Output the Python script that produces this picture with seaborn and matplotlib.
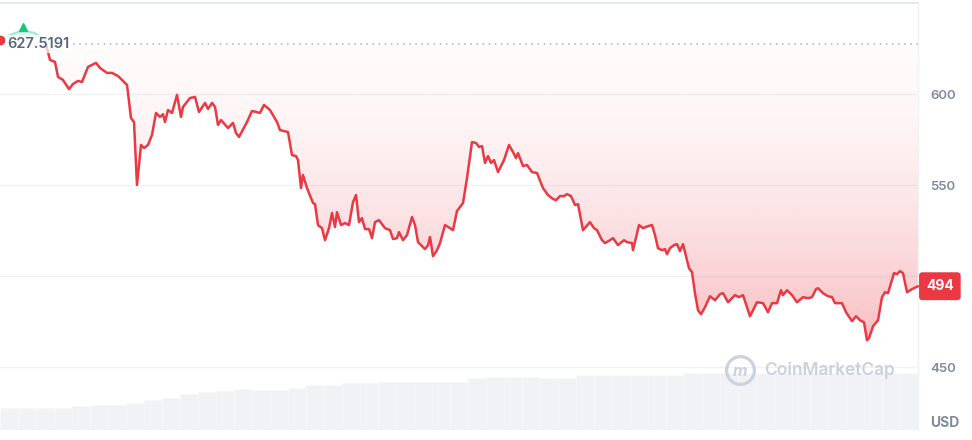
import numpy as np
import matplotlib.pyplot as plt
import matplotlib.colors as mcolors
from matplotlib.patches import Polygon, Rectangle
from matplotlib.lines import Line2D
import seaborn as sns

# 7-day price history (minutes since start, USD)
minutes = [0, 110, 253, 385, 495, 550, 605, 638, 693, 759, 803, 858, 902, 968, 1056, 1100,
           1177, 1232, 1298, 1342, 1397, 1441, 1474, 1507, 1551, 1584, 1628, 1672, 1716,
           1760, 1793, 1815, 1848, 1892, 1947, 1991, 2013, 2090, 2145, 2189, 2255, 2288,
           2332, 2365, 2398, 2431, 2508, 2563, 2596, 2629, 2717, 2772, 2860, 2904, 2970,
           3047, 3080, 3168, 3212, 3256, 3278, 3311, 3333, 3377, 3443, 3465, 3498, 3542,
           3575, 3619, 3652, 3685, 3707, 3751, 3795, 3839, 3883, 3916, 3949, 3982, 4015,
           4059, 4092, 4125, 4169, 4235, 4290, 4323, 4367, 4389, 4433, 4477, 4532, 4565,
           4598, 4642, 4675, 4708, 4730, 4763, 4807, 4840, 4895, 4950, 4983, 5027, 5093,
           5137, 5192, 5236, 5269, 5302, 5335, 5368, 5401, 5434, 5478, 5544, 5599, 5643,
           5676, 5698, 5753, 5797, 5852, 5907, 5973, 6028, 6083, 6116, 6160, 6204, 6237,
           6281, 6325, 6358, 6413, 6490, 6534, 6567, 6622, 6655, 6710, 6743, 6798, 6864,
           6897, 6952, 6963, 7029, 7073, 7128, 7172, 7205, 7238, 7282, 7315, 7337, 7370,
           7414, 7447, 7480, 7513, 7557, 7579, 7612, 7645, 7678, 7711, 7755, 7810, 7865,
           7920, 7953, 8008, 8085, 8129, 8173, 8250, 8327, 8393, 8448, 8492, 8547, 8591,
           8613, 8657, 8712, 8767, 8833, 8888, 8932, 8976, 8998, 9053, 9108, 9152, 9185,
           9262, 9306, 9372, 9416, 9460, 9504, 9537, 9559, 9603, 9658, 9702, 9735, 9768,
           9834, 9867, 9900, 9933, 9977, 10032, 10098]
price = [629.7, 632.5, 635.2, 633.5, 629.7, 618.7, 617.6, 609.4, 607.7, 602.7, 605.5, 607.2,
         606.6, 614.9, 617.1, 614.3, 611.6, 611.6, 609.9, 607.7, 605.0, 586.8, 584.6, 550.0,
         572.0, 570.3, 572.0, 577.5, 589.6, 587.4, 588.9, 584.6, 591.2, 589.6, 599.5, 587.4,
         592.9, 597.8, 598.4, 590.1, 595.1, 591.8, 595.1, 592.9, 583.0, 585.7, 581.3, 584.1,
         578.6, 576.4, 584.6, 590.7, 589.6, 594.0, 591.2, 584.6, 580.2, 579.1, 566.4, 565.9,
         563.7, 548.3, 555.5, 548.3, 540.1, 539.5, 528.0, 526.3, 519.7, 526.3, 534.6, 526.9,
         535.1, 528.0, 529.1, 528.0, 540.6, 544.5, 529.6, 531.8, 525.8, 525.8, 520.8, 529.6,
         530.7, 526.3, 525.2, 520.3, 520.8, 524.1, 519.7, 522.5, 532.4, 528.0, 518.6, 516.4,
         514.8, 516.9, 521.4, 510.9, 514.2, 518.1, 528.0, 526.3, 525.2, 535.7, 540.1, 553.8,
         573.6, 573.1, 570.9, 571.4, 562.1, 565.9, 562.1, 563.7, 557.1, 563.7, 572.0, 568.1,
         564.8, 567.5, 560.4, 561.0, 557.1, 556.6, 548.3, 544.5, 542.3, 541.7, 543.9, 543.9,
         545.0, 543.9, 539.0, 539.5, 525.2, 529.6, 526.3, 525.2, 519.7, 518.1, 519.7, 520.8,
         517.0, 519.7, 518.6, 518.1, 514.2, 528.0, 526.3, 527.4, 528.0, 522.5, 515.3, 514.2,
         514.8, 512.0, 515.3, 517.0, 517.5, 513.7, 517.5, 508.7, 504.3, 502.1, 490.5, 481.2,
         479.0, 482.9, 488.9, 486.7, 490.0, 490.6, 485.6, 489.5, 488.4, 489.5, 477.9, 485.6,
         485.1, 480.1, 485.1, 485.1, 492.2, 489.5, 492.2, 489.5, 485.6, 488.4, 487.8, 488.4,
         492.8, 493.3, 490.6, 488.9, 488.4, 485.1, 485.1, 480.1, 475.2, 477.9, 475.7, 474.6,
         464.7, 465.8, 472.4, 475.7, 488.4, 491.1, 490.6, 501.6, 501.0, 502.7, 501.6, 491.1,
         492.8, 494.4]
open_price = 627.5191
last_label = "494"

# 24h volume bars (millions USD), one every 198 minutes
vol_step = 198
volume = [220, 220, 220, 223, 240, 250, 250, 270, 300, 320, 360, 380, 390, 410, 400, 400,
          420, 450, 450, 470, 470, 480, 480, 480, 480, 480, 520, 530, 530, 530, 525, 525,
          550, 550, 550, 550, 550, 550, 570, 570, 570, 570, 570, 570, 570, 570, 570, 570,
          570, 570, 570]
yticks = [450, 500, 550, 600]
ytick_labels = ['450', '', '550', '600']  # 500 sits under the last-price tag

RED = '#ea3943'
GREEN = '#16c784'
GREY = '#808a9d'

sns.set_style('white')
plt.rcParams['font.family'] = ['Inter', 'DejaVu Sans']

t = np.array(minutes, dtype=float)
p = np.array(price)
vol_t = np.arange(len(volume)) * vol_step + vol_step / 2

fig = plt.figure(figsize=(9.72, 4.4), dpi=100)
rect = [0, 10 / 440, 918 / 972, 427 / 440]
axv = fig.add_axes(rect)
ax = fig.add_axes(rect, sharex=axv)
ax.patch.set_visible(False)

# volume in background
axv.bar(vol_t, volume, width=vol_step, color='#f0f2f5', edgecolor='#f8f9fb',
        linewidth=0.4)
axv.set_ylim(0, max(volume) * 427 / 57)
axv.axis('off')

# gradient fills between line and open price
lo, hi = p.min(), p.max()
s = np.linspace(1, 0, 256)
red_grad = np.zeros((256, 1, 4))
red_grad[..., :3] = mcolors.to_rgb(RED)
red_grad[..., 3] = (0.02 + 0.30 * s ** 1.6)[:, None]
im_r = ax.imshow(red_grad, extent=[t[0], t[-1], lo, open_price], origin='lower',
                 aspect='auto', zorder=1, interpolation='bilinear')
poly_r = Polygon(np.column_stack([np.r_[t, t[-1], t[0]],
                                  np.r_[np.minimum(p, open_price), open_price, open_price]]),
                 transform=ax.transData)
im_r.set_clip_path(poly_r)

green_grad = np.zeros((64, 1, 4))
green_grad[..., :3] = mcolors.to_rgb(GREEN)
green_grad[..., 3] = np.linspace(0.02, 0.15, 64)[:, None]
im_g = ax.imshow(green_grad, extent=[t[0], t[-1], open_price, hi], origin='lower',
                 aspect='auto', zorder=1)
poly_g = Polygon(np.column_stack([np.r_[t, t[-1], t[0]],
                                  np.r_[np.maximum(p, open_price), open_price, open_price]]),
                 transform=ax.transData)
im_g.set_clip_path(poly_g)

# price line: red below open, green above
sns.lineplot(x=t, y=p, ax=ax, color=RED, linewidth=1.8, estimator=None, sort=False, zorder=3)
ax.lines[-1].set_clip_path(Rectangle((t[0] - 500, 300), 12000, open_price - 300,
                                     transform=ax.transData))
sns.lineplot(x=t, y=p, ax=ax, color=GREEN, linewidth=1.5, alpha=0.35, estimator=None,
             sort=False, zorder=3)
ax.lines[-1].set_clip_path(Rectangle((t[0] - 500, open_price), 12000, 100,
                                     transform=ax.transData))
ax.plot(t[0], p[0], 'o', color=RED, markersize=6, zorder=4)
imax = int(np.argmax(p))
ax.plot(t[imax], p[imax] + 1.5, '^', color=GREEN, markersize=6, zorder=4)

# open price reference
ax.axhline(open_price, xmin=67 / 918, color='#a6b0c3', linestyle=(0, (1, 3)),
           linewidth=1.1, zorder=2)
ax.text(7 / 918, open_price, f'{open_price:.4f}', transform=ax.get_yaxis_transform(),
        ha='left', va='center', color='#58667e', fontsize=10.5, fontweight='semibold',
        bbox=dict(boxstyle='square,pad=0.15', fc='white', ec='none', alpha=0.7), zorder=5)

ax.set_xlim(0, t[-1])
ax.set_ylim(415.4, 650)
ax.set_yticks(yticks)
ax.set_yticklabels(ytick_labels)
ax.set_xticks([])
ax.yaxis.tick_right()
ax.tick_params(axis='y', length=0, pad=9, labelsize=9.5, labelcolor=GREY)
for lbl in ax.get_yticklabels():
    lbl.set_fontweight('semibold')
ax.grid(axis='y', color='#eff2f5', linewidth=0.9)
ax.set_axisbelow(True)
for side in ['left', 'bottom']:
    ax.spines[side].set_visible(False)
ax.spines['top'].set_color('#e6e9ee')
ax.spines['top'].set_linewidth(1.5)
ax.spines['right'].set_color('#eff2f5')
ax.spines['right'].set_linewidth(1)
ax.set_xlabel('')
ax.set_ylabel('')

# last price tag
ax.annotate(last_label, xy=(1, p[-1]), xycoords=('axes fraction', 'data'), xytext=(8, 0),
            textcoords='offset pixels', ha='left', va='center', color='white',
            fontsize=10, fontweight='bold', annotation_clip=False, zorder=10,
            bbox=dict(boxstyle='round,pad=0.5,rounding_size=0.25', fc=RED, ec='none'))

fig.text(945 / 972, 1 - 423 / 440, 'USD', ha='center', va='center', color=GREY,
         fontsize=10, fontweight='bold')

# watermark
fig.add_artist(Line2D([740 / 972], [1 - 370 / 440], marker='o', markersize=20, mfc='none',
                      mec='#cbd2dc', mew=2.3, transform=fig.transFigure))
fig.text(740 / 972, 1 - 371 / 440, 'm', ha='center', va='center', color='#cbd2dc',
         fontsize=11.5, fontweight='bold', style='italic')
fig.text(764 / 972, 1 - 370 / 440, 'CoinMarketCap', ha='left', va='center',
         color='#cbd2dc', fontsize=12.5, fontweight='semibold')

fig.savefig('out.png', dpi=100)
